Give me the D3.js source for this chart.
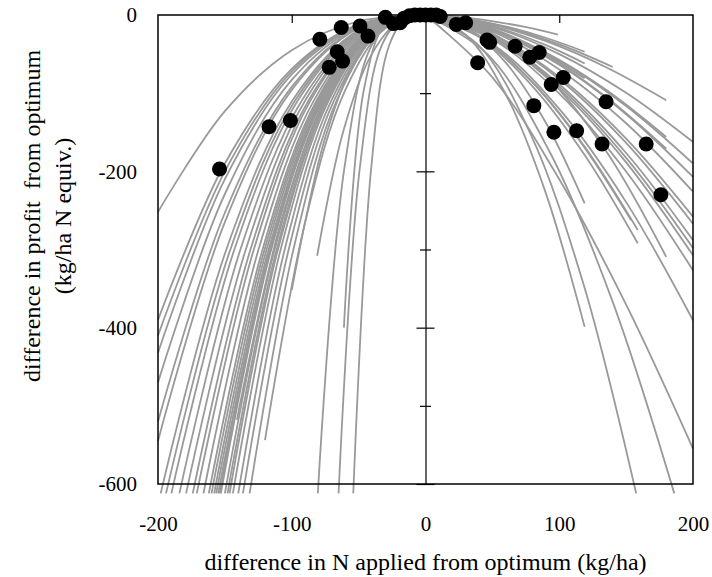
<!DOCTYPE html>
<html>
<head>
<meta charset="utf-8">
<script src="https://cdn.jsdelivr.net/npm/d3@7"></script>
<style>
  html, body { margin: 0; padding: 0; background: #fff; }
  svg text { font-family: "Liberation Serif", "Times New Roman", serif; fill: #000; }
</style>
</head>
<body>
<div id="chart"></div>
<script>
// N rate difference (kg/ha) and profit difference (kg/ha N equiv.) of observed optima
const dotN = [-154, -117, -101, -79, -72, -66, -63, -62, -49, -43,
  -30, -24, -19, -16, -12, -8, -4, 0, 4, 8, 11,
  23, 30, 39, 46, 48, 67, 78, 85, 81, 94, 103, 96, 113, 132, 135, 165, 176];
const dotProfit = [-197, -143, -135, -31, -67, -47, -16, -59, -14, -27,
  -3, -11, -10, -4, -1, 0, 0, 0, 0, 0, -2,
  -12, -10, -61, -32, -35, -40, -54, -48, -116, -89, -80, -150, -148, -165, -111, -165, -230];

// response curves below the optimum (each starts at the origin)
const curvesLow = [
  [[-50, -8], [-100, -45], [-150, -123], [-200, -252]],
  [[-50, -12], [-100, -69], [-150, -190], [-200, -390]],
  [[-50, -13], [-100, -72], [-150, -200], [-200, -410]],
  [[-50, -14], [-100, -76], [-150, -210], [-200, -432]],
  [[-50, -15], [-100, -83], [-150, -229], [-200, -470]],
  [[-50, -16], [-100, -92], [-150, -253], [-200, -520]],
  [[-50, -17], [-100, -96], [-150, -265], [-200, -545]],
  [[-49.5, -19], [-99, -108], [-148.5, -298], [-198, -612]],
  [[-48.5, -19], [-97, -108], [-145.5, -298], [-194, -612]],
  [[-47.5, -19], [-95, -108], [-142.5, -298], [-190, -612]],
  [[-46, -19], [-92, -108], [-138, -298], [-184, -612]],
  [[-45, -19], [-89.5, -108], [-134, -298], [-179, -612]],
  [[-43.5, -19], [-87, -108], [-130.5, -298], [-174, -612]],
  [[-43, -19], [-85.5, -108], [-128, -298], [-171, -612]],
  [[-41.5, -19], [-83, -108], [-124.5, -298], [-166, -612]],
  [[-40.5, -19], [-81, -108], [-121.5, -298], [-162, -612]],
  [[-40, -19], [-80, -108], [-120, -298], [-160, -612]],
  [[-39.5, -19], [-79, -108], [-118.5, -298], [-158, -612]],
  [[-39, -19], [-78, -108], [-117, -298], [-156.5, -612]],
  [[-39, -19], [-77.5, -108], [-116, -298], [-155, -612]],
  [[-38.5, -19], [-77, -108], [-115.5, -298], [-154, -612]],
  [[-38, -19], [-76.5, -108], [-115, -298], [-153, -612]],
  [[-37.5, -19], [-75, -108], [-112.5, -298], [-150, -612]],
  [[-37, -19], [-74, -108], [-111, -298], [-148, -612]],
  [[-36.5, -19], [-73, -108], [-110, -298], [-146.5, -612]],
  [[-36, -19], [-72, -108], [-108, -298], [-144, -612]],
  [[-35, -19], [-70, -108], [-105, -298], [-140, -612]],
  [[-34, -19], [-68, -108], [-102, -298], [-136.5, -612]],
  [[-33, -19], [-66, -108], [-98.5, -298], [-131.5, -612]],
  [[-20, -2.4], [-40, -38], [-60.5, -194], [-80.5, -612]],
  [[-16, -2.4], [-32.5, -38], [-49, -194], [-65, -612]],
  [[-13.5, -2.4], [-27, -38], [-40.5, -194], [-54, -612]],
  [[-20, -8], [-40.5, -51], [-61, -146], [-81, -308]],
  [[-25, -7], [-50, -51], [-75, -157], [-100, -352]],
  [[-15, -0.4], [-30.5, -12.5], [-46, -95], [-61, -400]],
  [[-30, -17], [-60, -96], [-90, -265], [-120, -544]],
  [[-35, -16], [-70.5, -92], [-106, -252], [-141, -518]]
];

// response curves above the optimum
const curvesHigh = [
  [[24.75, -2.4], [49.5, -7.7], [74.25, -15.3], [99, -25]],
  [[29.75, -4.5], [59.5, -14.5], [89.25, -28.8], [119, -47]],
  [[29.75, -5.9], [59.5, -19.1], [89.25, -38], [119, -62]],
  [[29.75, -7.7], [59.5, -24.9], [89.25, -49.7], [119, -81]],
  [[35, -6.3], [70, -20.5], [105, -40.8], [140, -66.5]],
  [[45, -10.3], [90, -33.5], [135, -66.8], [180, -109]],
  [[50, -15.4], [100, -50], [150, -99.6], [200, -162.5]],
  [[45, -14.8], [90, -48], [135, -95.6], [180, -156]],
  [[45, -16.2], [90, -52.6], [135, -104.8], [180, -171]],
  [[50, -18], [100, -58.5], [150, -116.5], [200, -190]],
  [[50, -19.6], [100, -63.7], [150, -126.9], [200, -207]],
  [[50, -21.4], [100, -69.6], [150, -138.5], [200, -226]],
  [[29.75, -15], [59.5, -60], [89.25, -135.6], [119, -241]],
  [[38.5, -24.9], [76.9, -80.8], [115.4, -161], [153.8, -262.6]],
  [[39.7, -26], [79.35, -84.6], [119, -168.6], [158.7, -275]],
  [[39.7, -27.7], [79.35, -89.9], [119, -179], [158.7, -292]],
  [[50, -24.4], [100, -79.4], [150, -158.2], [200, -258]],
  [[50, -25.3], [100, -82.2], [150, -163.7], [200, -267]],
  [[50, -27.3], [100, -88.6], [150, -176.5], [200, -288]],
  [[50, -28.2], [100, -91.7], [150, -182.7], [200, -298]],
  [[45, -19.3], [90, -77.4], [135, -174.1], [180, -309.5]],
  [[50, -29.1], [100, -94.6], [150, -188.5], [200, -307.5]],
  [[50, -30.9], [100, -100.5], [150, -200.2], [200, -326.6]],
  [[50, -37], [100, -120.2], [150, -239.4], [200, -390.5]],
  [[29.75, -24.9], [59.5, -99.75], [89.25, -224.4], [119, -399]],
  [[39.4, -38.25], [78.75, -153], [118.1, -344.25], [157.5, -612]],
  [[46.5, -50.5], [93, -175.6], [139.5, -364.8], [186, -612]],
  [[50, -79.7], [100, -210.2], [150, -370.5], [200, -554.7]]
];

const xTicks = [-200, -100, 0, 100, 200];
const yTicks = [0, -200, -400, -600];
const yMinorTicks = [-100, -300, -500];
const origin = [0, 0];

const width = 712, height = 577;
const margin = { top: 15, right: 19, bottom: 93, left: 158 };
const w = width - margin.left - margin.right;
const h = height - margin.top - margin.bottom;

const svg = d3.select('#chart').append('svg')
  .attr('width', width)
  .attr('height', height);

const g = svg.append('g').attr('transform', `translate(${margin.left},${margin.top})`);

const x = d3.scaleLinear().domain([-200, 200]).range([0, w]);
const y = d3.scaleLinear().domain([-600, 0]).range([h, 0]);

// plain hyphen for negatives, as in the original
const fmt = d => String(d);

const line = d3.line()
  .x(d => x(d[0]))
  .y(d => y(d[1]))
  .curve(d3.curveCatmullRom.alpha(0.5));

// gray response curves
g.append('g').attr('class', 'curves')
  .selectAll('path')
  .data(curvesLow.concat(curvesHigh).map(c => [origin].concat(c)))
  .join('path')
  .attr('d', line)
  .attr('fill', 'none')
  .attr('stroke', '#999')
  .attr('stroke-width', 1.8);

// plot frame
g.append('rect')
  .attr('x', 0).attr('y', 0)
  .attr('width', w).attr('height', h)
  .attr('fill', 'none')
  .attr('stroke', '#000')
  .attr('stroke-width', 1.5);

// x ticks along the top (axis crosses at y = 0)
g.append('g')
  .call(d3.axisBottom(x).tickValues([-100, 100]).tickSize(8).tickSizeOuter(0).tickFormat(''))
  .call(s => s.select('.domain').remove())
  .selectAll('line').attr('stroke-width', 1.2);

// y axis drawn at x = 0 with crossing ticks
const yAxisG = g.append('g').attr('transform', `translate(${x(0)},0)`);
yAxisG.append('g')
  .call(d3.axisLeft(y).tickValues(yTicks).tickSize(9).tickSizeOuter(0).tickFormat(''));
yAxisG.append('g')
  .call(d3.axisRight(y).tickValues(yTicks).tickSize(9).tickSizeOuter(0).tickFormat(''))
  .call(s => s.select('.domain').remove());
yAxisG.append('g')
  .call(d3.axisLeft(y).tickValues(yMinorTicks).tickSize(5.5).tickFormat(''))
  .call(s => s.select('.domain').remove());
yAxisG.append('g')
  .call(d3.axisRight(y).tickValues(yMinorTicks).tickSize(5.5).tickFormat(''))
  .call(s => s.select('.domain').remove());
yAxisG.selectAll('path, line').attr('stroke', '#000').attr('stroke-width', 1.2);

// tick labels sit outside the frame
g.append('g')
  .attr('transform', `translate(0,${h})`)
  .call(d3.axisBottom(x).tickValues(xTicks).tickSize(0).tickPadding(32).tickFormat(fmt))
  .call(s => s.select('.domain').remove())
  .selectAll('text')
  .attr('font-family', null)
  .attr('font-size', null)
  .style('font-size', '21px');

g.append('g')
  .call(d3.axisLeft(y).tickValues(yTicks).tickSize(0).tickPadding(21).tickFormat(fmt))
  .call(s => s.select('.domain').remove())
  .selectAll('text')
  .attr('font-family', null)
  .attr('font-size', null)
  .style('font-size', '21px');

// observed optima
g.append('g').attr('class', 'dots')
  .selectAll('circle')
  .data(dotN.map((n, i) => [n, dotProfit[i]]))
  .join('circle')
  .attr('cx', d => x(d[0]))
  .attr('cy', d => y(d[1]))
  .attr('r', 7.5)
  .attr('fill', '#000');

// axis titles
svg.append('text')
  .attr('x', margin.left + x(0))
  .attr('y', 570)
  .attr('text-anchor', 'middle')
  .style('font-size', '24px')
  .text('difference in N applied from optimum (kg/ha)');

const yTitle = svg.append('text')
  .attr('transform', 'translate(40,216) rotate(-90)')
  .attr('text-anchor', 'middle')
  .style('font-size', '24px')
  .style('white-space', 'pre');
yTitle.append('tspan').attr('x', 0).attr('dy', 0).text('difference in profit  from optimum');
yTitle.append('tspan').attr('x', 0).attr('dy', 31).text('(kg/ha N equiv.)');
</script>
</body>
</html>
